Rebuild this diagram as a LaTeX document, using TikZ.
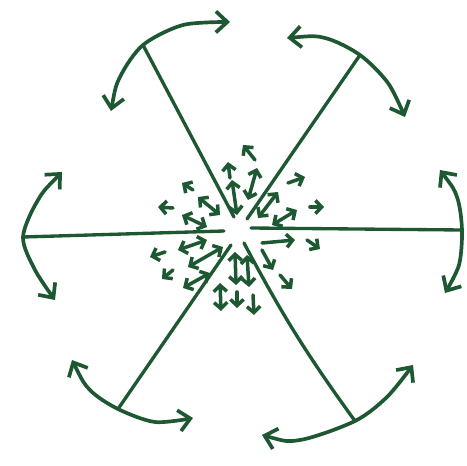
\documentclass[tikz,border=0pt]{standalone}
\usetikzlibrary{arrows.meta}
\definecolor{inkgreen}{RGB}{30,88,50}

\begin{document}
\begin{tikzpicture}[
  x=0.02cm, y=-0.02cm,
  % Stroke styles
  spoke/.style={
    draw=inkgreen, line width=1.9pt, line cap=round
  },
  swing/.style={
    draw=inkgreen, line width=2.1pt, line cap=round, line join=round,
    {Straight Barb[length=6.5pt,width=12pt,line width=2.1pt]}-{Straight Barb[length=6.5pt,width=12pt,line width=2.1pt]}
  },
  jet/.style={
    draw=inkgreen, line width=2pt, line cap=round,
    -{Straight Barb[length=3.5pt,width=7.5pt,line width=2pt]}
  },
  jets/.style={
    jet,
    {Straight Barb[length=3.5pt,width=7.5pt,line width=2pt]}-{Straight Barb[length=3.5pt,width=7.5pt,line width=2pt]}
  }
]
\useasboundingbox (0,0) rectangle (467,466);

%% ── Spokes ───────────────────────────────────────────────────
\coordinate (wL) at (23,237);   \coordinate (wLi) at (224,231);
\coordinate (wR) at (462,230);  \coordinate (wRi) at (251,228);
\coordinate (nL) at (143,45);   \coordinate (nLi) at (234,217);
\coordinate (nR) at (360,55);   \coordinate (nRi) at (247,219);
\coordinate (sL) at (118,409);  \coordinate (sLi) at (231,245);
\coordinate (sR) at (355,421);  \coordinate (sRi) at (244,243);

\draw[spoke] (wL) -- (wLi);
\draw[spoke] (wRi) -- (wR);
\draw[spoke] (nL) -- (nLi);
\draw[spoke] (nR) -- (nRi);
\draw[spoke] (sL) -- (sLi);
\draw[spoke] (sR) to[bend left=4] (sRi);

%% ── Swinging arcs at the spoke ends ──────────────────────────
\draw[swing] plot[smooth] coordinates {(111,111) (120,77) (nL) (183,25) (230,22)};
\draw[swing] plot[smooth] coordinates {(287,38) (325,38) (nR) (388,83) (405,117)};
\draw[swing] plot[smooth] coordinates {(440,170) (457,197) (wR) (459,265) (445,293)};
\draw[swing] plot[smooth] coordinates {(62,172) (38,200) (wL) (35,270) (55,300)};
\draw[swing] plot[smooth] coordinates {(72,360) (90,390) (sL) (155,422) (193,418)};
\draw[swing] plot[smooth] coordinates {(262,435) (300,440) (sR) (387,397) (413,365)};

%% ── Small arrows round the centre ────────────────────────────
\foreach \xa/\ya/\xb/\yb in {
  255/160/243/145, 230/178/228/162, 193/190/182/183,
  173/208/158/207, 288/183/305/177, 310/207/324/207,
  262/243/295/240, 262/250/273/270, 280/275/292/289,
  307/240/320/249, 165/252/150/257, 173/270/162/279,
  237/292/237/308, 253/295/254/315}
  \draw[jet] (\xa,\ya) -- (\xb,\yb);

\foreach \xa/\ya/\xb/\yb in {
  232/180/237/215, 257/168/248/200, 198/197/220/215,
  182/215/207/227, 278/192/258/218, 297/210/272/225,
  178/250/207/240, 188/267/223/247, 183/288/210/273,
  235/252/236/285, 247/255/249/287, 220/283/221/311}
  \draw[jets] (\xa,\ya) -- (\xb,\yb);

\end{tikzpicture}
\end{document}
